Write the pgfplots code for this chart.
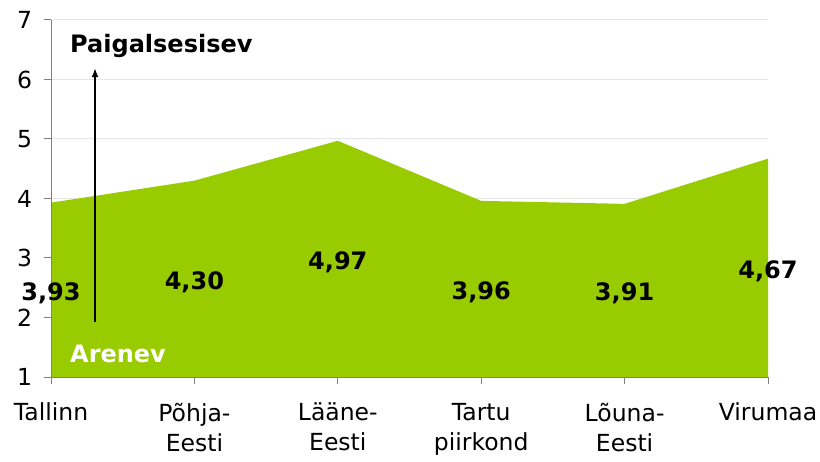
\documentclass[border=0pt]{standalone}
\usepackage{fontspec}
\setmainfont{DejaVu Sans}
\usepackage{pgfplots}
\pgfplotsset{compat=1.18}
\usetikzlibrary{arrows.meta}
\definecolor{areagreen}{HTML}{99CC00}
\definecolor{axisgray}{HTML}{808080}
\definecolor{gridgray}{HTML}{E6E6E6}
\begin{document}
\fontsize{23.5bp}{30bp}\selectfont
\begin{tikzpicture}
\path[use as bounding box] (-51bp,-85bp) rectangle (769bp,377bp);
\begin{axis}[
  at={(0,0)}, anchor=origin,
  scale only axis,
  width=717bp, height=357bp,
  xmin=0, xmax=5, ymin=1, ymax=7,
  axis x line=bottom, axis y line=left,
  axis line style={-, draw=axisgray, line width=1bp},
  xtick={0,1,2,3,4,5},
  xticklabels={Tallinn,{Põhja-\\Eesti},{Lääne-\\Eesti},{Tartu\\piirkond},{Lõuna-\\Eesti},Virumaa},
  ytick={1,2,3,4,5,6,7},
  tick align=outside,
  major tick length=7bp,
  tick style={draw=axisgray, line width=1bp},
  ymajorgrids,
  grid style={draw=gridgray, line width=1bp},
  xticklabel style={align=center, font=\fontsize{23.5bp}{30bp}\selectfont, yshift=-11bp},
  yticklabel style={font=\fontsize{23.5bp}{30bp}\selectfont, xshift=-4bp},
  /pgf/number format/assume math mode=true,
  clip=false,
]
\addplot[fill=areagreen, draw=none] coordinates {
  (0,1) (0,3.93) (1,4.30) (2,4.97) (3,3.96) (4,3.91) (5,4.67) (5,1)
} -- cycle;
\addplot[draw=none, mark=none,
  nodes near coords, point meta=explicit symbolic,
  nodes near coords style={anchor=center, yshift=-3bp, font=\fontsize{24bp}{30bp}\selectfont\bfseries, text=black}]
  coordinates {
  (0,2.465)[{3,93}] (1,2.65)[{4,30}] (2,2.985)[{4,97}] (3,2.48)[{3,96}] (4,2.455)[{3,91}] (5,2.835)[{4,67}]
};
\draw[axisgray, line width=1bp] (rel axis cs:0,1) -- (rel axis cs:0,0) -- (rel axis cs:1,0);
\draw[-{Latex[length=9bp,width=7bp]}, line width=1.5bp, black] (axis cs:0.307,1.92) -- (axis cs:0.307,6.19);
\node[anchor=base west, inner sep=0pt, font=\fontsize{24bp}{30bp}\selectfont\bfseries, text=black] at (axis cs:0.1325,6.46) {Paigalsesisev};
\node[anchor=base west, inner sep=0pt, font=\fontsize{24bp}{30bp}\selectfont\bfseries, text=white] at (axis cs:0.1325,1.25) {Arenev};
\end{axis}
\end{tikzpicture}
\end{document}
